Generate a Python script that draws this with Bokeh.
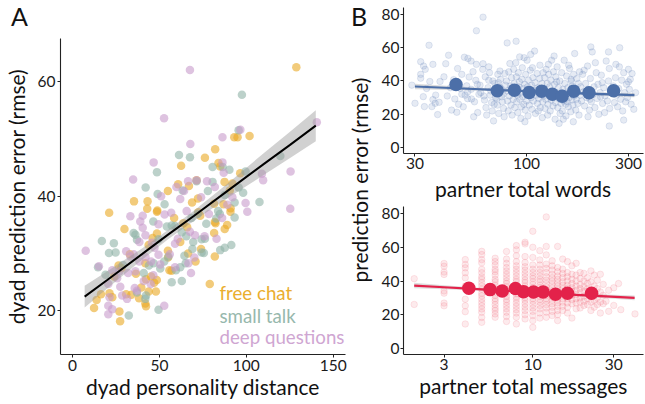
import numpy as np
from bokeh.plotting import figure
from bokeh.layouts import row, column
from bokeh.models import ColumnDataSource, FixedTicker, PrintfTickFormatter, Range1d, Div
from bokeh.core.properties import value
from bokeh.embed import file_html
from bokeh.resources import INLINE

FONT = "Lato"
TICK_FS = "15.5px"
AXLAB_FS = "21px"

# ---------------- Panel A data ----------------
free_chat = [(128.8,62.5),(101.9,50.5),(93.1,50.3),(95.0,50.3),(82.1,48.2),(76.2,46.7),(62.5,45.3),(84.0,45.8),(85.0,45.2),(60.8,42.1),(71.4,42.8),(87.5,42.5),(54.9,40.9),(90.5,41.0),(92.0,42.2),(35.4,39.1),(43.0,37.8),(43.2,39.1),(72.2,39.6),(68.8,38.9),(21.1,37.1),(48.8,37.5),(48.6,37.3),(29.9,34.3),(63.8,35.3),(66.0,34.6),(73.5,36.6),(72.4,37.2),(81.9,35.5),(86.9,38.6),(91.0,37.9),(81.5,33.6),(48.6,33.5),(43.8,31.5),(46.1,32.7),(54.9,30.5),(55.0,29.3),(41.9,28.3),(33.0,29.9),(26.5,27.9),(28.2,27.5),(55.8,27.1),(57.0,27.0),(47.0,24.9),(39.6,24.1),(42.3,25.5),(45.2,26.0),(48.5,25.4),(43.8,23.4),(48.0,23.4),(30.9,22.9),(33.9,22.8),(38.3,22.2),(41.9,21.3),(42.3,20.8),(16.4,22.9),(13.9,21.9),(12.4,20.5),(21.3,23.1),(22.9,22.4),(27.0,19.9),(27.4,18.2),(79.0,24.7),(81.9,29.5),(74.0,30.8),(70.8,28.6),(62.0,32.0),(58.5,36.2),(36.5,26.5),(24.0,26.0),(67.0,41.8),(96.5,44.0),(89.0,35.0),(66.5,30.0),(90.9,37.3),(87.6,34.3),(82.3,35.3),(81.5,38.7)]
small_talk = [(97.5,57.7),(95.6,51.5),(61.3,47.2),(67.6,46.8),(86.4,45.1),(80.6,45.1),(90.3,44.6),(48.6,44.2),(119.6,47.0),(99.6,44.3),(42.1,41.5),(49.0,40.4),(63.4,41.0),(71.4,42.6),(77.9,40.9),(80.6,42.5),(98.2,40.6),(95.6,41.5),(87.6,40.2),(107.6,39.0),(93.3,36.3),(77.0,35.2),(82.7,36.1),(91.4,31.5),(87.6,31.0),(85.0,30.6),(76.2,32.6),(75.6,30.1),(16.9,32.2),(23.8,31.8),(21.0,30.1),(24.8,30.2),(14.7,27.6),(19.0,26.3),(35.2,33.6),(36.2,33.3),(37.1,32.4),(49.5,32.5),(54.3,34.7),(57.1,34.9),(59.0,34.8),(62.9,33.7),(65.5,33.0),(69.5,32.0),(74.3,32.5),(83.8,37.4),(84.8,36.9),(93.3,38.9),(74.3,30.2),(69.0,30.8),(64.4,29.6),(65.1,28.3),(62.0,27.6),(59.5,27.1),(55.2,29.5),(52.8,28.6),(46.7,28.3),(44.0,27.9),(41.0,26.6),(57.1,25.0),(62.9,25.2),(49.5,20.2),(32.4,19.2),(41.9,22.1),(42.3,22.7),(37.1,23.2),(50.5,27.4),(72.0,36.9),(68.5,36.2),(29.0,28.0),(46.5,35.6),(53.0,38.6)]
deep_questions = [(67.6,62.0),(52.7,53.6),(96.6,51.6),(86.3,50.3),(140.6,52.9),(67.8,49.1),(46.7,45.9),(86.3,45.9),(87.0,44.1),(125.5,44.3),(109.0,43.9),(109.7,42.8),(34.9,42.9),(71.4,42.8),(66.5,42.6),(59.8,41.6),(64.2,40.9),(77.4,42.6),(99.6,38.8),(100.6,37.3),(125.3,37.8),(89.1,38.5),(86.1,36.2),(78.5,36.9),(82.9,32.6),(81.9,41.6),(65.7,37.4),(56.8,37.1),(53.0,36.8),(49.5,35.1),(40.4,36.6),(39.0,35.6),(33.3,36.5),(40.4,34.5),(42.0,33.2),(38.5,32.0),(45.7,31.9),(47.2,31.0),(59.0,31.7),(60.6,32.6),(67.6,33.8),(70.5,33.2),(76.0,33.0),(7.6,30.5),(30.9,30.4),(33.3,29.5),(35.2,29.9),(38.5,28.6),(42.0,29.4),(45.2,28.6),(49.5,29.8),(50.5,28.1),(56.0,29.9),(59.0,27.6),(66.7,28.3),(70.1,29.3),(68.2,26.6),(36.2,26.9),(32.0,26.6),(27.0,26.9),(22.9,27.1),(25.7,25.7),(15.2,27.8),(20.6,24.7),(21.3,22.4),(20.6,20.9),(22.9,20.3),(20.6,19.4),(28.6,22.7),(31.4,22.1),(35.8,24.0),(37.1,23.5),(41.0,25.2),(45.0,24.7),(46.5,26.2),(52.8,20.9),(27.5,24.2),(62.0,39.5),(74.0,39.8),(92.0,39.8),(51.0,40.0)]

group_labels = ["free chat", "small talk", "deep questions"]
group_point_colors = ["#E9A823", "#8FB3A6", "#C89BCB"]
group_text_colors = ["#EAAE2E", "#97B8AD", "#CFA6D2"]

# fitted line and its confidence band
fitA_x = [7, 20, 40, 55, 70, 90, 110, 125, 140]
fitA_y = [22.5, 25.4, 29.9, 33.3, 36.6, 41.1, 45.6, 48.9, 52.3]
fitA_half = [1.9, 1.5, 1.0, 0.8, 0.9, 1.3, 1.9, 2.3, 2.7]

# ---------------- Panel B (top) data ----------------
words = [(30,26.6),(31.9,51.6),(32.9,49),(31.9,44),(31.9,41.7),(32.8,30.6),(33.2,24.6),(34.9,61.5),(35.2,39.7),(36.4,50),(36.4,28.8),(36,24.6),(37.3,26.6),(38.9,27.2),(38.3,19.8),(39.3,39.7),(34,35.5),(29,37.5),(37.5,31.5),(33.5,47),
(41.8,50.4),(43.1,55.5),(46.1,29.2),(47.1,21.2),(49.7,32.1),(49.7,44),(51.1,54.3),(53.1,53.6),(54.9,52),(52.4,37.1),(53.8,42.4),(52.9,29.4),(55.2,29.2),(56.1,45.6),(57.8,40.4),(58.2,50),(58.2,70.2),(59.8,32.1),(44,36),(45.5,40.8),(42.5,31),(48,26),(50.5,24.5),(47.5,47.5),(55,35),(57,27.5),(44.5,22.5),(59,21),(56.5,18.5),(53,33.5),(46.5,38.5),(41,42.5),(58.8,38),(51.5,31.5),(48.8,35.5),
(62.5,78.4),(62.5,50.4),(62.3,47),(66.5,40.4),(73.3,44),(61,33),(63.5,28.5),(64.5,24),(65,19.5),(66,36),(67.5,31.5),(68.5,27),(69,22),(70,16),(71,38.5),(72,33),(72.5,29.5),(73,25.5),(74,20.5),(75,46),(75.5,41),(76,35.5),(76.5,30.5),(77,27.5),(78,23.5),(78.5,18.5),(79,44.5),(79.5,37.5),(64,42.5),(67,45),(69.5,40),(71.5,30),(74.5,36.5),(77.5,32),(60.5,37.5),(63,31),(70.5,26),(66.5,48.5),(73.8,39),(68,34),
(81.1,62.9),(89.3,63.9),(97.4,54),(89,51),
(80.5,40),(81,34),(81.5,28),(82,22),(82.5,45.5),(83,31),(84,37),(84.5,25.5),(85,42),(85.5,19.5),(86,33.5),(86.5,29),(87,47),(87.5,38.5),(88,24),(88.5,35),(89.5,42.5),(90,27.5),(90.5,31.5),(91,21),(91.5,45),(92,36.5),(92.5,39.5),(93,29),(93.5,33),(94,17.5),(94.5,24.5),(95,41),(95.5,48),(96,30.5),(96.5,35.5),(97,26),(98,38),(98.5,22.5),(99,44),(99.5,32),(100,28),(100.5,52.5),(101,36.5),(101.5,19),(102,40.5),(103,25.5),(103.5,33.5),(104,46.5),(105,30),(105.5,37.5),(106,23),(107,42),(107.5,28),(108,34.5),(109,58),(109.5,39),(110,20.5),(111,31.5),(112,44.5),(112.5,26.5),(113,36),(114,29.5),(115,41.5),(115.5,49.5),(116,24),(117,33),(118,38.5),(118.5,18),(119,27.5),(119.5,45),(120,31),(83.5,50.5),(92.8,54.5),(104.5,56),(98.2,15.5),(106.5,48),(113.5,22),
(121,35.5),(121.5,42),(122,23.5),(123,29),(123.5,47),(124,33.5),(125,38.5),(125.5,19.5),(126,26),(127,44),(127.5,31),(128,36.5),(129,22),(130,40.5),(130.5,28.5),(131,52.5),(132,34),(133,25),(133.5,45.5),(134,30.5),(135,38),(136,17),(136.5,27),(137,42.5),(138,33),(139,48.5),(140,24),(141,36),(141.5,29.5),(142,14.5),(143,40),(144,31.5),(145,26.5),(146,45),(147,22),(148,35),(149,28),(150,52.5),(151,38.5),(152,32.5),(153,19),(154,43),(155,27.5),(156,36),(157,24.5),(158,30),(159,47.5),(160,34),(161,21.5),(162,40),(163,28.5),(164,37),(165,25.5),(166,44),(167,31),(168,56.5),(169,35),(170,22.5),(171,29),(172,41.5),(173,33.5),(174,26.5),(175,38.5),(176,19.5),(177,45.5),(178,31.5),(179,36.5),(126.5,50),(134.5,55),(143.5,20.5),(157.5,49.5),(148.5,17),(165.5,15.5),(138.5,39.5),(146.5,33),(152.5,26),(161.5,41),
(181,28),(183,44),(185,33.5),(187,25),(189,38.5),(191,30),(193,49),(195,35),(197,22.5),(199,41.5),(201,27.5),(203,57.5),(205,32),(207,36.5),(209,24),(212,45),(214,29.5),(216,38),(218,20),(221,33),(224,43.5),(227,26.5),(230,36),(233,31),(236,52),(239,28),(242,40),(245,23.5),(248,34.5),(186,46.5),(194,18.5),(210,51),(222,30.5),(232,21),(244,47.5),(200,60.5),(198,29),(226,39),(242,57.5),
(244,12.9),(255,37),(258,27),(261,42),(264,31.5),(267,24.5),(273,60),(276,29),(279,40.5),(282,22),(285,45),(288,33),(291,27.5),(294,38),(297,30),(300,47),(303,35),(306,41),(309,26),(312,44.5),(318,23),(324,33),(262,50),(285,16.5),(272,48.5),(300,39.5),(258,32.5),(270,35.5)]
words_x = [w[0] for w in words]
words_y = [w[1] for w in words]

words_bin_x = [46.7, 72.9, 87.7, 102.8, 117.7, 132.0, 146.8, 166.2, 196.0, 255.6]
words_bin_y = [37.9, 34.1, 34.5, 33.1, 33.9, 32.0, 30.8, 33.9, 32.9, 34.1]

fitW_x = [30, 50, 80, 120, 180, 250, 320]
fitW_y = [36.7, 35.5, 34.4, 33.5, 32.6, 31.9, 31.5]
fitW_half = [1.6, 1.1, 0.7, 0.6, 0.7, 1.0, 1.3]

# ---------------- Panel B (bottom) data ----------------
messages = {
 2: [41.4, 26.1],
 3: [50.4, 48.8, 45.3, 43.9, 34.1, 32.8, 26.9, 25.3],
 4: [52.7, 49.8, 47.8, 44.9, 41.9, 37.0, 35.5, 29.2, 25.3, 21.8, 14.5],
 5: [57.6, 55.7, 52.7, 50.8, 46.9, 44.9, 42.5, 41.0, 39.0, 37.1, 35.1, 32.8, 31.2, 29.2, 27.2, 25.3, 23.4, 21.4, 18.4, 15.5],
 6: [53.5, 51.5, 49.5, 47.0, 45.5, 43.5, 41.0, 39.5, 37.5, 35.5, 33.5, 31.5, 29.5, 28.0, 26.0, 24.0, 22.5, 20.5, 18.5],
 7: [57.5, 53.0, 50.5, 48.0, 46.0, 44.0, 42.0, 40.0, 38.5, 36.5, 34.5, 33.0, 31.0, 29.0, 27.5, 25.5, 23.5, 21.5, 19.0, 16.0],
 8: [61.0, 58.5, 55.0, 51.5, 49.0, 47.0, 45.0, 43.0, 41.0, 39.5, 37.5, 36.0, 34.0, 32.5, 30.5, 29.0, 27.0, 25.0, 23.0, 21.0, 18.5, 14.5],
 9: [63.0, 62.0, 54.5, 51.0, 48.5, 46.5, 44.5, 42.5, 40.5, 39.0, 37.0, 35.5, 33.5, 32.0, 30.0, 28.5, 26.5, 24.5, 22.5, 20.0, 17.5],
 10: [69.5, 60.0, 54.0, 49.5, 47.0, 45.0, 43.0, 41.5, 39.5, 38.0, 36.0, 34.5, 33.0, 31.5, 29.5, 28.0, 26.0, 24.0, 22.0, 19.5, 16.5, 12.5],
 11: [58.0, 52.5, 49.5, 47.0, 45.0, 43.0, 41.0, 39.5, 37.5, 36.0, 34.5, 32.5, 31.0, 29.0, 27.5, 25.5, 23.5, 21.0, 18.0],
 12: [78.0, 60.5, 55.5, 50.0, 47.5, 45.0, 42.5, 40.5, 38.5, 36.5, 35.0, 33.0, 31.5, 29.5, 28.0, 26.0, 24.0, 21.5, 18.5],
 13: [52.0, 49.0, 46.5, 44.0, 42.0, 40.0, 38.0, 36.0, 34.0, 32.5, 30.5, 28.5, 26.5, 24.5, 22.0, 19.5],
 14: [60.5, 48.0, 45.5, 43.0, 41.0, 39.0, 37.0, 35.0, 33.0, 31.0, 29.0, 27.0, 25.0, 22.5, 20.0, 16.5],
 15: [53.0, 47.0, 44.5, 42.0, 39.5, 37.5, 35.5, 33.5, 31.5, 29.5, 27.5, 25.0, 22.5],
 16: [51.5, 45.0, 42.5, 40.0, 37.5, 35.5, 33.5, 31.5, 29.5, 27.0, 24.5, 21.0],
 17: [49.0, 44.0, 41.0, 38.5, 36.0, 34.0, 31.5, 29.0, 26.5, 18.0],
 18: [50.5, 43.5, 40.0, 37.0, 34.5, 32.0, 29.5, 27.0, 23.5],
 19: [45.0, 41.5, 38.0, 35.5, 33.0, 30.0, 27.5, 24.0],
 20: [44.5, 40.0, 36.5, 34.0, 31.0, 28.0, 25.5],
 21: [42.0, 38.5, 35.5, 32.5, 29.5, 26.0],
 22: [46.0, 39.5, 34.5, 31.0, 27.5, 22.5],
 23: [43.5, 37.0, 33.0, 28.5, 24.5],
 24: [40.5, 35.5, 30.0, 26.0],
 25: [44.0, 33.5, 27.5, 21.0],
 26: [38.0, 31.5, 26.5],
 27: [28.0],
 28: [34.5, 22.0],
 30: [36.0, 25.5],
 32: [38.5],
 33: [23.0],
 40: [20.5],
}
msg_x = [k for k, ys in messages.items() for _ in ys]
msg_y = [y for ys in messages.values() for y in ys]

msg_bin_x = [4.2, 5.6, 6.6, 7.9, 8.8, 10.1, 11.5, 13.6, 16.0, 22.2]
msg_bin_y = [35.7, 34.9, 34.1, 35.5, 33.7, 33.5, 33.5, 32.2, 32.7, 32.7]

fitM_x = [2.0, 3, 5, 8, 12, 18, 27, 39.8]
fitM_y = [37.3, 36.3, 35.0, 33.8, 32.8, 31.8, 30.9, 30.0]
fitM_half = [1.6, 1.2, 0.8, 0.6, 0.6, 0.8, 1.1, 1.4]


def style(p, xticks, yticks, log=False, label_standoff=2, ylab_standoff=3, xlab_standoff=0):
    p.xgrid.visible = False
    p.ygrid.visible = False
    p.outline_line_color = None
    p.background_fill_color = "white"
    p.border_fill_color = "white"
    for ax in (p.xaxis[0], p.yaxis[0]):
        ax.axis_line_color = "#222222"
        ax.axis_line_width = 1.1
        ax.major_tick_line_color = "#222222"
        ax.major_tick_in = 0
        ax.major_tick_out = 3
        ax.minor_tick_line_color = None
        ax.major_label_text_font = FONT
        ax.major_label_text_font_size = TICK_FS
        ax.major_label_text_color = "#1a1a1a"
        ax.axis_label_text_font = FONT
        ax.axis_label_text_font_size = AXLAB_FS
        ax.axis_label_text_font_style = "normal"
        ax.axis_label_text_color = "#111111"
        ax.major_label_standoff = label_standoff
    p.xaxis[0].axis_label_standoff = xlab_standoff
    p.yaxis[0].axis_label_standoff = ylab_standoff
    p.xaxis[0].ticker = FixedTicker(ticks=xticks, minor_ticks=[])
    p.yaxis[0].ticker = FixedTicker(ticks=yticks, minor_ticks=[])
    if log:
        p.xaxis[0].formatter = PrintfTickFormatter(format="%d")


# ---------------- panel letter "A" ----------------
divA = Div(text='<div style="padding-left:11px;padding-top:3px;font-family:Lato;font-size:25px;'
                'line-height:26px;color:#111111;">A</div>',
           width=348, height=38, margin=0)

# ---------------- Panel A ----------------
pA = figure(width=348, height=366, x_range=Range1d(-6.9, 157.1), y_range=Range1d(12.4, 67.5),
            output_backend="svg", toolbar_location=None, title=None,
            min_border_left=58, min_border_right=3, min_border_top=0, min_border_bottom=50)
style(pA, [0, 50, 100, 150], [20, 40, 60], ylab_standoff=6)
pA.xaxis.axis_label = "dyad personality distance"
pA.yaxis.axis_label = "dyad prediction error (rmse)"

for pts, col in zip([free_chat, small_talk, deep_questions], group_point_colors):
    pA.scatter(x=[q[0] for q in pts], y=[q[1] for q in pts], size=8.5,
               fill_color=col, fill_alpha=0.6, line_color=None)

fa = np.array(fitA_y); ha = np.array(fitA_half)
pA.varea(x=fitA_x, y1=fa - ha, y2=fa + ha, fill_color="#9a9a9a", fill_alpha=0.45)
pA.line(x=fitA_x, y=fitA_y, line_color="black", line_width=2)

leg_src = ColumnDataSource(dict(x=[84.6, 84.6, 84.6], y=[23.1, 19.2, 15.4],
                                t=group_labels, c=group_text_colors))
pA.text(x="x", y="y", text="t", text_color="c", source=leg_src,
        text_font=value(FONT), text_font_size=value("18.7px"),
        text_baseline="middle", text_align="left")

# ---------------- middle strip: "B" and shared y label ----------------
divMid = Div(text=(
    '<div style="position:relative;width:30px;height:404px;font-family:Lato;color:#111111;">'
    '<div style="position:absolute;left:3px;top:3px;font-size:25px;line-height:26px;">B</div>'
    '<div style="position:absolute;left:12px;top:180px;transform:translate(-50%,-50%) rotate(-90deg);'
    'white-space:nowrap;font-size:21px;line-height:24px;">prediction error (rmse)</div>'
    '</div>'), width=30, height=404, margin=0)

# ---------------- Panel B top ----------------
blue = "#4C6FA8"
pB1 = figure(width=267, height=203, x_axis_type="log", x_range=Range1d(26.5, 353),
             y_range=Range1d(-3.6, 84.2), output_backend="svg", toolbar_location=None, title=None,
             min_border_left=22, min_border_right=2, min_border_top=7, min_border_bottom=48)
style(pB1, [30, 100, 300], [0, 20, 40, 60, 80], log=True, label_standoff=1, xlab_standoff=4)
pB1.xaxis.axis_label = "partner total words"
fw = np.array(fitW_y); hw = np.array(fitW_half)
pB1.varea(x=fitW_x, y1=fw - hw, y2=fw + hw, fill_color="#aaaaaa", fill_alpha=0.4)
pB1.scatter(x=words_x, y=words_y, size=6.5, fill_color="#5878b4", fill_alpha=0.15,
            line_color="#5878b4", line_alpha=0.2, line_width=0.8)
pB1.line(x=fitW_x, y=fitW_y, line_color=blue, line_width=2.2)
pB1.scatter(x=words_bin_x, y=words_bin_y, size=13.5, fill_color=blue, line_color=None)

# ---------------- Panel B bottom ----------------
red = "#E3224A"
pB2 = figure(width=267, height=201, x_axis_type="log", x_range=Range1d(1.73, 44.9),
             y_range=Range1d(-3.6, 84.2), output_backend="svg", toolbar_location=None, title=None,
             min_border_left=22, min_border_right=2, min_border_top=3, min_border_bottom=50)
style(pB2, [3, 10, 30], [0, 20, 40, 60, 80], log=True, label_standoff=1)
pB2.xaxis.axis_label = "partner total messages"
fm = np.array(fitM_y); hm = np.array(fitM_half)
pB2.varea(x=fitM_x, y1=fm - hm, y2=fm + hm, fill_color="#aaaaaa", fill_alpha=0.4)
pB2.scatter(x=msg_x, y=msg_y, size=6.5, fill_color="#ef5a6e", fill_alpha=0.12,
            line_color="#ef5a6e", line_alpha=0.18, line_width=0.8)
pB2.line(x=fitM_x, y=fitM_y, line_color=red, line_width=2.2)
pB2.scatter(x=msg_bin_x, y=msg_bin_y, size=13.5, fill_color=red, line_color=None)

layout = row(column(divA, pA), divMid, column(pB1, pB2))

open("out.html", "w").write(file_html(layout, INLINE))
